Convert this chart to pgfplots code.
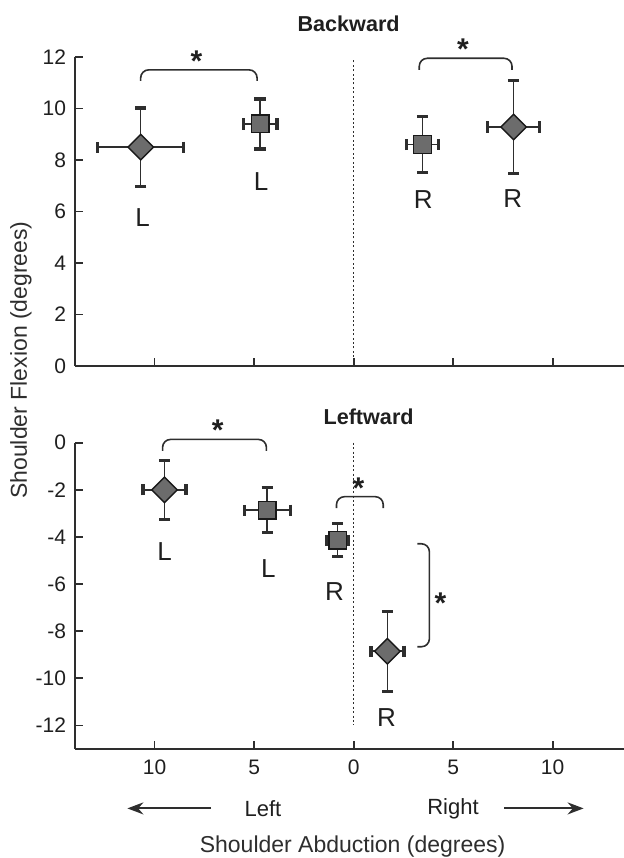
\documentclass[border=0pt]{standalone}
\usepackage{fontspec}
\setmainfont{Liberation Sans}
\usepackage{pgfplots}
\pgfplotsset{compat=1.18}
\usepackage{pgfplotstable}
\usetikzlibrary{arrows.meta}

% x, y, x error, y error
\pgfplotstableread{
x y ex ey
-10.7 8.50 2.15 1.52
8.04 9.28 1.30 1.80
}\topdia
\pgfplotstableread{
x y ex ey
-4.70 9.40 0.85 0.97
3.46 8.60 0.80 1.08
}\topsq
\pgfplotstableread{
x y ex ey
-9.50 -2.00 1.08 1.25
1.70 -8.85 0.83 1.70
}\botdia
\pgfplotstableread{
x y ex ey
-4.34 -2.86 1.15 0.95
-0.80 -4.14 0.55 0.70
}\botsq

\definecolor{mk}{HTML}{6C6C6C}
\definecolor{ax}{HTML}{2E2E2E}

\pgfplotsset{
  mystyle/.style={
    axis x line*=bottom, axis y line*=left,
    axis line style={ax, line width=0.9pt},
    xtick align=inside, ytick align=inside,
    every tick/.style={ax, line width=0.9pt},
    major tick length=4pt,
    xmin=-14, xmax=13.59,
    xtick={-10,-5,0,5,10},
    x=9.95pt,
    clip=false,
    /pgf/number format/assume math mode=true,
    tick label style={font=\fontsize{10.5}{12}\selectfont, text=black!88},
    yticklabel style={xshift=-1pt},
  },
  errs/.style={
    only marks,
    error bars/.cd,
      x dir=both, x explicit, y dir=both, y explicit,
      error bar style={line width=0.8pt, ax},
      error mark options={rotate=90, line width=1.6pt, mark size=2.8pt, ax},
    /pgfplots/.cd,
  },
  dia/.style={mark=square*, mark size=4.5pt,
    mark options={rotate=45, fill=mk, draw=black!90, line width=0.7pt}, errs},
  sq/.style={mark=square*, mark size=4.4pt,
    mark options={fill=mk, draw=black!90, line width=0.7pt}, errs},
}

\tikzset{
  lab/.style={font=\fontsize{13}{15}\selectfont, text=black!88},
  star/.style={font=\fontsize{15}{16}\selectfont\bfseries, text=black!88},
  brk/.style={line width=0.8pt, ax, rounded corners=4pt},
  dotl/.style={ax, line width=0.8pt, dash pattern=on 1pt off 1.2pt},
}

\begin{document}
\begin{tikzpicture}
\useasboundingbox (0,0) rectangle (312pt,429pt);

% ---------- Backward ----------
\begin{axis}[mystyle, at={(37.5pt,246pt)}, anchor=south west,
  y=12.875pt, ymin=0, ymax=12, ytick={0,2,...,12},
  xticklabels={}]
  \addplot[dotl] coordinates {(0,0) (0,11.9)};
  \addplot[dia] table[x=x,y=y,x error=ex,y error=ey]{\topdia};
  \addplot[sq] table[x=x,y=y,x error=ex,y error=ey]{\topsq};
  \node[lab] at (axis cs:-10.6,5.75) {L};
  \node[lab] at (axis cs:-4.65,7.15) {L};
  \node[lab] at (axis cs:3.5,6.45) {R};
  \node[lab] at (axis cs:8.0,6.5) {R};
  \draw[brk] (axis cs:-10.7,11.07) -- (axis cs:-10.7,11.5) -- (axis cs:-4.85,11.5) -- (axis cs:-4.85,11.07);
  \node[star] at (axis cs:-7.9,11.85) {*};
  \draw[brk] (axis cs:3.3,11.5) -- (axis cs:3.3,11.95) -- (axis cs:7.96,11.95) -- (axis cs:7.96,11.5);
  \node[star] at (axis cs:5.5,12.3) {*};
\end{axis}

% ---------- Leftward ----------
\begin{axis}[mystyle, at={(37.5pt,54.5pt)}, anchor=south west,
  y=11.78pt, ymin=-13, ymax=0, ytick={-12,-10,...,0},
  xticklabels={10,5,0,5,10},
  xticklabel style={yshift=-2pt}]
  \addplot[dotl] coordinates {(0,0) (0,-12)};
  \addplot[dia] table[x=x,y=y,x error=ex,y error=ey]{\botdia};
  \addplot[sq] table[x=x,y=y,x error=ex,y error=ey]{\botsq};
  \node[lab] at (axis cs:-9.5,-4.6) {L};
  \node[lab] at (axis cs:-4.28,-5.33) {L};
  \node[lab] at (axis cs:-0.96,-6.3) {R};
  \node[lab] at (axis cs:1.65,-11.67) {R};
  \draw[brk] (axis cs:-9.6,-0.35) -- (axis cs:-9.6,0.14) -- (axis cs:-4.38,0.14) -- (axis cs:-4.38,-0.35);
  \node[star] at (axis cs:-6.83,0.55) {*};
  \draw[brk] (axis cs:-0.86,-2.78) -- (axis cs:-0.86,-2.29) -- (axis cs:1.49,-2.29) -- (axis cs:1.49,-2.78);
  \node[star] at (axis cs:0.24,-1.93) {*};
  \draw[brk] (axis cs:3.21,-4.29) -- (axis cs:3.81,-4.29) -- (axis cs:3.81,-8.66) -- (axis cs:3.21,-8.66);
  \node[star] at (axis cs:4.36,-6.82) {*};
\end{axis}

% titles and labels
\node[font=\fontsize{10.8}{12}\selectfont\bfseries, text=black!88] at (174.3pt,417pt) {Backward};
\node[font=\fontsize{10.8}{12}\selectfont\bfseries, text=black!88] at (184.3pt,220.5pt) {Leftward};
\node[font=\fontsize{11.5}{13}\selectfont, text=black!82, rotate=90] at (10.5pt,249pt) {Shoulder Flexion (degrees)};
\node[font=\fontsize{11.5}{13}\selectfont, text=black!82] at (176.3pt,5.5pt) {Shoulder Abduction (degrees)};
\node[font=\fontsize{11}{12}\selectfont, text=black!88] at (131.5pt,24.8pt) {Left};
\node[font=\fontsize{11}{12}\selectfont, text=black!88] at (226.5pt,24.8pt) {Right};
\draw[ax, line width=1pt, -{Stealth[length=8pt,width=6pt]}] (105.6pt,24.8pt) -- (63.7pt,24.8pt);
\draw[ax, line width=1pt, -{Stealth[length=8pt,width=6pt]}] (252pt,24.8pt) -- (291.8pt,24.8pt);
\end{tikzpicture}
\end{document}
